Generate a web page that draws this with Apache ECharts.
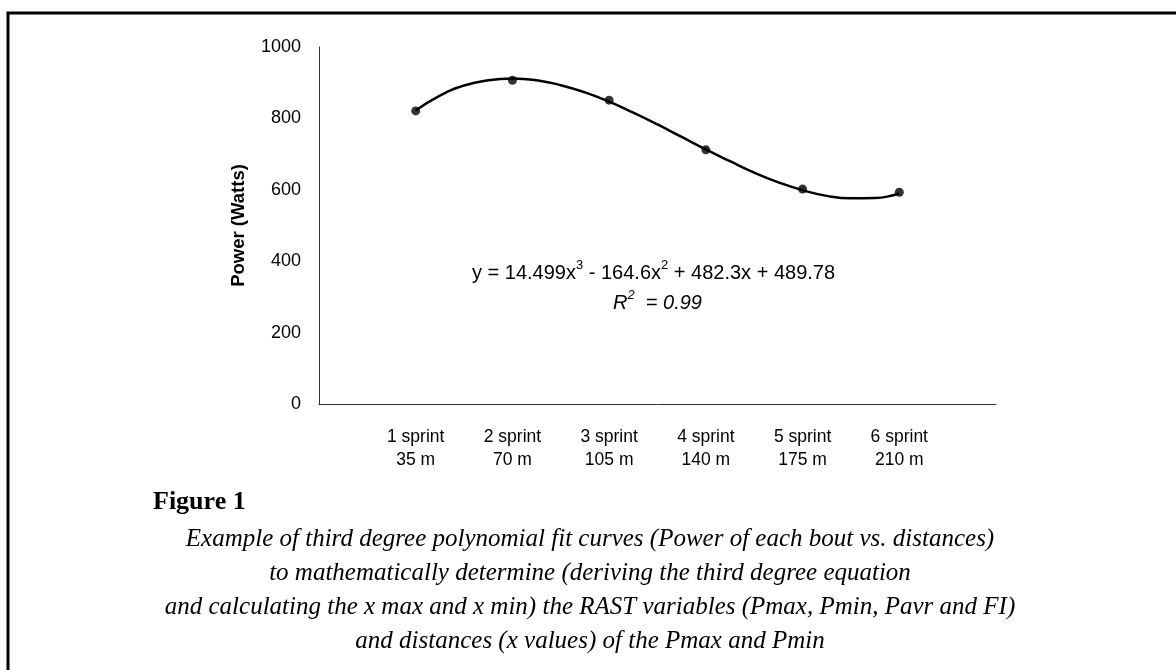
<!DOCTYPE html>
<html>
<head>
<meta charset="utf-8">
<script src="https://cdn.jsdelivr.net/npm/echarts@6/dist/echarts.min.js"></script>
<style>
html,body{margin:0;padding:0;background:#fff;}
#c{width:1176px;height:670px;}
</style>
</head>
<body>
<div id="c"></div>
<script>
// Data
const sprintX = [1, 2, 3, 4, 5, 6];
const sprintLabels = ['1 sprint\n35 m', '2 sprint\n70 m', '3 sprint\n105 m', '4 sprint\n140 m', '5 sprint\n175 m', '6 sprint\n210 m'];
const powerValues = [821, 907, 851, 712, 602, 593];
// Fitted trend curve
const trendX = [1, 1.25, 1.5, 1.75, 2, 2.25, 2.5, 2.75, 3, 3.25, 3.5, 3.75, 4, 4.25, 4.5, 4.75, 5, 5.25, 5.5, 5.75, 6];
const trendY = [822, 864, 892, 907, 912, 907, 893, 873, 847, 816, 783, 748, 713, 680, 648, 621, 599, 583, 576, 577, 590];
const yTicks = [0, 200, 400, 600, 800, 1000];

const chart = echarts.init(document.getElementById('c'));
const font = 'Liberation Sans, Arial, sans-serif';
const serif = 'Liberation Serif, Times New Roman, serif';

chart.setOption({
  animation: false,
  backgroundColor: '#fff',
  grid: { left: 319, top: 47, right: 180, bottom: 266 },
  xAxis: {
    type: 'value', min: 0, max: 7, interval: 1,
    axisLine: { show: true, lineStyle: { color: '#333', width: 1 } },
    axisTick: { show: false },
    splitLine: { show: false },
    axisLabel: {
      margin: 22, color: '#000', fontFamily: font, fontSize: 17.5, lineHeight: 23,
      formatter: v => { const i = sprintX.indexOf(v); return i >= 0 ? sprintLabels[i] : ''; }
    }
  },
  yAxis: {
    type: 'value', min: yTicks[0], max: yTicks[yTicks.length - 1], interval: 200,
    name: 'Power (Watts)', nameLocation: 'middle', nameGap: 71,
    nameTextStyle: { fontFamily: font, fontSize: 18.5, fontWeight: 'bold', color: '#000' },
    axisLine: { show: true, lineStyle: { color: '#333', width: 1 } },
    axisTick: { show: false },
    splitLine: { show: false },
    axisLabel: { margin: 18, color: '#000', fontFamily: font, fontSize: 18, formatter: v => String(v) }
  },
  series: [
    {
      type: 'line', data: trendX.map((x, i) => [x, trendY[i]]),
      smooth: true, showSymbol: false, symbol: 'none',
      lineStyle: { color: '#000', width: 2.5 }, z: 2
    },
    {
      type: 'scatter', data: sprintX.map((x, i) => [x, powerValues[i]]),
      symbol: 'circle', symbolSize: 9, itemStyle: { color: '#000' }, z: 3
    }
  ],
  graphic: [
    { type: 'polyline', shape: { points: [[8, 670], [8, 13], [1176, 13]] }, style: { stroke: '#000', lineWidth: 3, fill: null } },
    {
      type: 'text', left: 472, top: 259,
      style: {
        text: '{n|y = 14.499x}{s|3}{n| - 164.6x}{s|2}{n| + 482.3x + 489.78}',
        rich: {
          n: { fontFamily: font, fontSize: 20, fill: '#000', lineHeight: 24, verticalAlign: 'bottom' },
          s: { fontFamily: font, fontSize: 13, fill: '#000', lineHeight: 24, verticalAlign: 'top' }
        }
      }
    },
    {
      type: 'text', left: 613, top: 289,
      style: {
        text: '{n|R}{s|2}{n|  = 0.99}',
        rich: {
          n: { fontFamily: font, fontSize: 20, fontStyle: 'italic', fill: '#000', lineHeight: 24, verticalAlign: 'bottom' },
          s: { fontFamily: font, fontSize: 13, fontStyle: 'italic', fill: '#000', lineHeight: 24, verticalAlign: 'top' }
        }
      }
    },
    { type: 'text', left: 153, top: 489, style: { text: 'Figure 1', fontFamily: serif, fontSize: 26, fontWeight: 'bold', fill: '#000' } },
    {
      type: 'text', x: 590, y: 522,
      style: {
        text: 'Example of third degree polynomial fit curves (Power of each bout vs. distances)\nto mathematically determine (deriving the third degree equation\nand calculating the x max and x min) the RAST variables (Pmax, Pmin, Pavr and FI)\nand distances (x values) of the Pmax and Pmin',
        fontFamily: serif, fontSize: 25, fontStyle: 'italic', fill: '#000',
        align: 'center', verticalAlign: 'top', lineHeight: 34
      }
    }
  ]
});
</script>
</body>
</html>
